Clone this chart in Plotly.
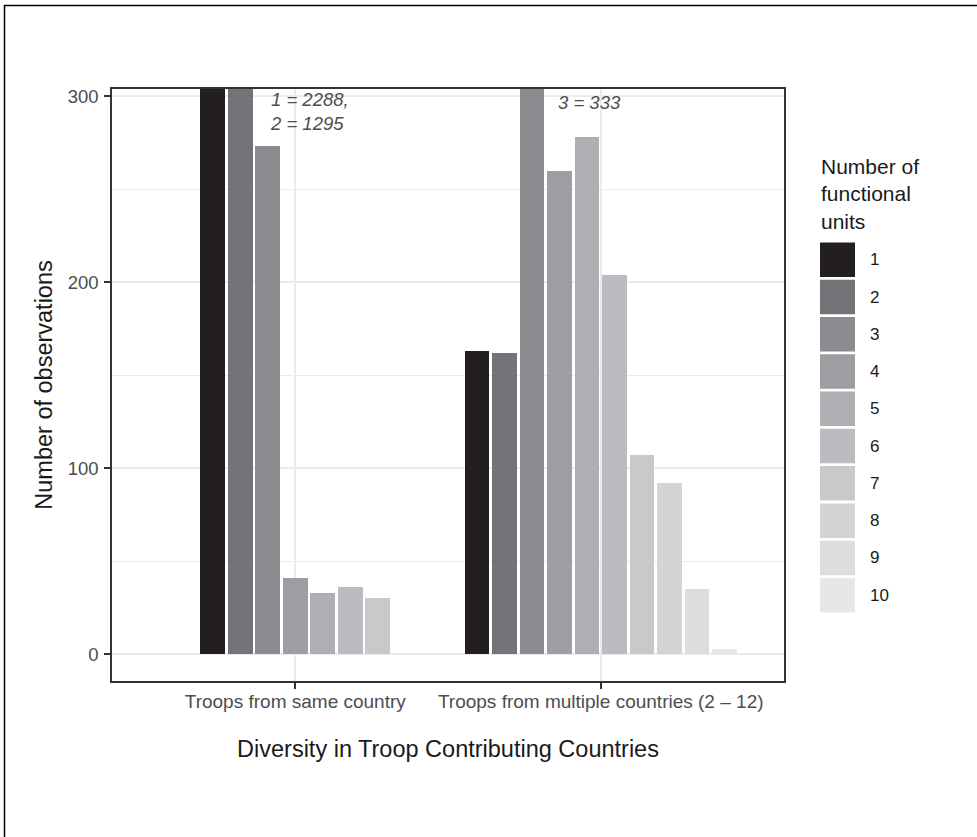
import plotly.graph_objects as go

# ---- data ----
categories = ["Troops from same country", "Troops from multiple countries (2 – 12)"]
levels = ["1", "2", "3", "4", "5", "6", "7", "8", "9", "10"]
same_country = [2288, 1295, 273, 41, 33, 36, 30]                # levels 1-7
multi_country = [163, 162, 333, 260, 278, 204, 107, 92, 35, 3]  # levels 1-10
colors = ["#231F20", "#737477", "#8B8C90", "#9D9EA1", "#AEAFB2",
          "#BBBCBF", "#C8C9CB", "#D3D4D6", "#DCDDDF", "#E6E7E8"]
y_ticks = [0, 100, 200, 300]

FONT = "Liberation Sans, Arial, Helvetica, sans-serif"
slot = 0.09
bar_w = 0.081
groups = [same_country, multi_country]

fig = go.Figure()
for j, lev in enumerate(levels):
    xs, ys = [], []
    for gi, vals in enumerate(groups):
        n = len(vals)
        if j < n:
            xs.append(gi + 1 + (j - (n - 1) / 2) * slot)
            ys.append(vals[j])
    fig.add_trace(go.Bar(x=xs, y=ys, width=bar_w, name=lev,
                         marker=dict(color=colors[j], line=dict(width=0)),
                         showlegend=False))

# plot-area pixel geometry
L, R, T, B = 112, 784, 89, 681
W, H = 977, 837
def px(x):
    return (x - L) / (R - L)
def py(y):
    return (B - y) / (B - T)

shapes = []
annotations = []
# outer frame (cropped at right/bottom)
shapes.append(dict(type="rect", xref="paper", yref="paper",
                   x0=px(4.5), x1=px(1100), y0=py(1000), y1=py(5.5),
                   line=dict(color="#000000", width=1.5), fillcolor="rgba(0,0,0,0)",
                   layer="below"))

# manual legend
key_x0, key_x1 = 820, 855
top0, pitch, kh = 242.5, 37.27, 34.5
for j, lev in enumerate(levels):
    y0 = top0 + j * pitch
    shapes.append(dict(type="rect", xref="paper", yref="paper",
                       x0=px(key_x0), x1=px(key_x1), y0=py(y0 + kh), y1=py(y0),
                       fillcolor=colors[j], line=dict(width=0)))
    annotations.append(dict(xref="paper", yref="paper", x=px(868), y=py(y0 + kh / 2),
                            text=lev, showarrow=False, xanchor="left", yanchor="middle",
                            font=dict(family=FONT, size=17, color="#1A1A1A")))
annotations.append(dict(xref="paper", yref="paper", x=px(819), y=py(193.5),
                        text="Number of<br>functional<br>units", showarrow=False,
                        xanchor="left", yanchor="middle", align="left",
                        font=dict(family=FONT, size=21, color="#1A1A1A")))

# value annotations for clipped bars
annotations.append(dict(x=0.91, y=292, xref="x", yref="y",
                        text="<i>1 = 2288,</i><br><i>2 = 1295</i>",
                        showarrow=False, xanchor="left", yanchor="middle", align="left",
                        font=dict(family=FONT, size=18.5, color="#4D4D4D")))
annotations.append(dict(x=1.853, y=296.4, xref="x", yref="y", text="<i>3 = 333</i>",
                        showarrow=False, xanchor="left", yanchor="middle",
                        font=dict(family=FONT, size=18.5, color="#4D4D4D")))

fig.update_layout(
    width=W, height=H,
    margin=dict(l=L, r=W - R, t=T, b=H - B, pad=0),
    paper_bgcolor="white", plot_bgcolor="white",
    barmode="overlay", bargap=0,
    font=dict(family=FONT, color="#1A1A1A"),
    shapes=shapes, annotations=annotations,
    showlegend=False,
)
fig.update_xaxes(
    range=[0.4, 2.6], tickmode="array", tickvals=[1, 2], ticktext=categories,
    tickfont=dict(family=FONT, size=19, color="#4D4D4D"),
    ticklabelstandoff=-4,
    showgrid=True, gridcolor="#EBEBEB", gridwidth=2,
    ticks="outside", ticklen=6, tickwidth=2, tickcolor="#333333",
    showline=True, mirror=True, linecolor="#333333", linewidth=1.5,
    zeroline=False,
    title=dict(text="Diversity in Troop Contributing Countries", standoff=30,
               font=dict(family=FONT, size=23.5, color="#1A1A1A")),
)
fig.update_yaxes(
    range=[-14.4, 303.9], tickmode="array", tickvals=y_ticks,
    tickfont=dict(family=FONT, size=18.5, color="#4D4D4D"),
    ticklabelstandoff=2,
    showgrid=True, gridcolor="#EBEBEB", gridwidth=2,
    minor=dict(tickmode="linear", tick0=0, dtick=50, showgrid=True,
               gridcolor="#EBEBEB", gridwidth=1, ticks=""),
    ticks="outside", ticklen=6, tickwidth=2, tickcolor="#333333",
    showline=True, mirror=True, linecolor="#333333", linewidth=1.5,
    zeroline=False,
    title=dict(text="Number of observations", standoff=8,
               font=dict(family=FONT, size=23.5, color="#1A1A1A")),
)

fig.write_html("out.html", config={"displayModeBar": False},
               post_script="document.body.style.margin='0px';document.body.style.overflow='hidden';")
